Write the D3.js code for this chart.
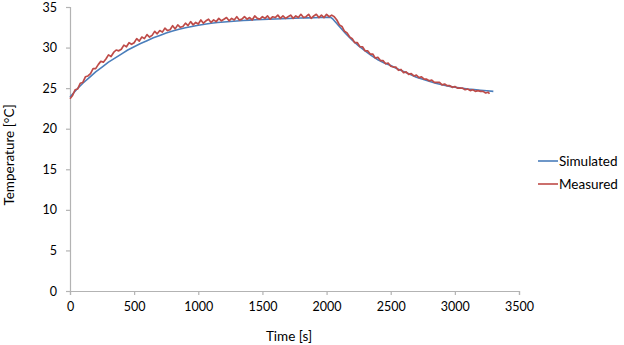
<!DOCTYPE html>
<html>
<head>
<meta charset="utf-8">
<script src="https://cdn.jsdelivr.net/npm/d3@7"></script>
<style>
  html, body { margin: 0; padding: 0; background: #fff; }
  svg { display: block; font-family: Lato, "Open Sans", sans-serif; }
</style>
</head>
<body>
<svg id="chart" width="624" height="345"></svg>
<script>
// Simulated temperature, sampled every 50 s (plus the turning point at 2030 s)
const simTime = [0,50,100,150,200,250,300,350,400,450,500,550,600,650,700,750,800,850,900,950,
  1000,1050,1100,1150,1200,1250,1300,1350,1400,1450,1500,1550,1600,1650,1700,1750,1800,1850,1900,1950,
  2000,2030,2050,2100,2150,2200,2250,2300,2350,2400,2450,2500,2550,2600,2650,2700,2750,2800,2850,2900,
  2950,3000,3050,3100,3150,3200,3250,3300];
const simTemp = [23.9,24.8,25.6,26.3,27.0,27.6,28.2,28.7,29.2,29.7,30.1,30.5,30.85,31.2,31.5,31.8,32.05,32.25,32.45,32.6,
  32.75,32.88,33.0,33.08,33.15,33.22,33.28,33.33,33.38,33.42,33.46,33.5,33.53,33.56,33.59,33.62,33.64,33.66,33.68,33.7,
  33.72,33.74,33.5,32.6,31.7,30.9,30.2,29.6,29.0,28.5,28.1,27.8,27.4,27.05,26.7,26.35,26.1,25.85,25.6,25.42,
  25.25,25.12,25.0,24.9,24.82,24.74,24.67,24.6];

// Measured temperature, logged every 20 s (last sample at 3270 s)
const measTime = d3.range(0, 3261, 20).concat([3270]);
const measTemp = [
  23.7,24.1,24.8,24.9,25.6,25.7,26.4,26.5,26.8,27.4,27.4,27.9,28.3,28.2,28.6,29.1,28.9,29.4,29.7,29.6,
  29.8,30.3,30.1,30.6,30.4,30.6,31.1,30.8,31.3,31.1,31.6,31.3,31.5,32.0,31.7,32.1,31.9,32.4,32.1,32.2,
  32.7,32.3,32.8,32.5,32.6,33.0,32.7,33.2,32.8,33.1,32.9,33.4,33.0,33.3,33.5,33.1,33.4,33.2,33.6,33.3,
  33.5,33.7,33.3,33.6,33.4,33.8,33.4,33.5,33.8,33.5,33.7,33.4,33.9,33.6,33.5,33.8,33.6,33.9,33.5,33.8,
  33.7,34.0,33.6,33.9,33.6,33.8,34.0,33.6,33.9,33.7,34.1,33.7,33.8,34.1,33.6,33.9,34.1,33.7,34.0,33.7,
  34.1,33.8,34.0,33.8,33.4,32.8,32.6,32.0,31.8,31.3,31.1,30.6,30.6,30.1,30.1,29.6,29.6,29.2,29.2,28.7,
  28.8,28.4,28.4,28.0,28.1,27.7,27.6,27.6,27.2,27.3,26.9,27.0,26.7,26.8,26.5,26.6,26.3,26.4,26.1,26.1,
  25.9,26.0,25.7,25.7,25.7,25.4,25.5,25.3,25.3,25.1,25.2,25.0,25.0,25.0,24.8,24.9,24.7,24.8,24.6,24.7,
  24.6,24.6,24.4,24.5,24.3];

const xTicks = [0,500,1000,1500,2000,2500,3000,3500];
const yTicks = [0,5,10,15,20,25,30,35];
const seriesNames = ["Simulated", "Measured"];
const seriesColors = ["#4a7ebb", "#be4b48"];

const svg = d3.select("#chart");
const axisColor = "#b3b3b3";
const textColor = "#000";

const x = d3.scaleLinear().domain([0, 3500]).range([70, 519]);
const y = d3.scaleLinear().domain([0, 35]).range([291, 7]);

// Axes
const xAxis = svg.append("g").attr("transform", `translate(0,${y(0)})`)
  .call(d3.axisBottom(x).tickValues(xTicks).tickSize(4).tickPadding(7).tickFormat(d3.format("d")));
const yAxis = svg.append("g").attr("transform", `translate(${x(0)},0)`)
  .call(d3.axisLeft(y).tickValues(yTicks).tickSize(4).tickPadding(9).tickFormat(d3.format("d")));

[xAxis, yAxis].forEach(g => {
  g.selectAll("path.domain").attr("stroke", axisColor).attr("stroke-width", 1.2);
  g.selectAll(".tick line").attr("stroke", axisColor).attr("stroke-width", 1.2);
  g.selectAll(".tick text").attr("fill", textColor).style("font-size", "12.5px")
    .style("font-family", "Lato, 'Open Sans', sans-serif");
});

// Lines
const simData = simTime.map((t, i) => [t, simTemp[i]]);
const measData = measTime.map((t, i) => [t, measTemp[i]]);
const line = d3.line().x(d => x(d[0])).y(d => y(d[1]));

svg.append("path").datum(simData).attr("d", line)
  .attr("fill", "none").attr("stroke", seriesColors[0]).attr("stroke-width", 1.6)
  .attr("stroke-linejoin", "round");
svg.append("path").datum(measData).attr("d", line)
  .attr("fill", "none").attr("stroke", seriesColors[1]).attr("stroke-width", 1.7)
  .attr("stroke-linejoin", "round");

// Axis titles
svg.append("text").attr("x", 289).attr("y", 341).attr("text-anchor", "middle")
  .style("font-size", "13.5px").attr("fill", textColor).text("Time [s]");
svg.append("text").attr("transform", "translate(14,155) rotate(-90)").attr("text-anchor", "middle")
  .style("font-size", "13.5px").attr("fill", textColor).text("Temperature [°C]");

// Legend
const legend = svg.append("g");
seriesNames.forEach((name, i) => {
  const ly = 161 + i * 23;
  legend.append("line").attr("x1", 538).attr("x2", 558).attr("y1", ly).attr("y2", ly)
    .attr("stroke", seriesColors[i]).attr("stroke-width", 1.6);
  legend.append("text").attr("x", 559).attr("y", ly + 5).style("font-size", "13.5px")
    .attr("fill", textColor).text(name);
});
</script>
</body>
</html>
